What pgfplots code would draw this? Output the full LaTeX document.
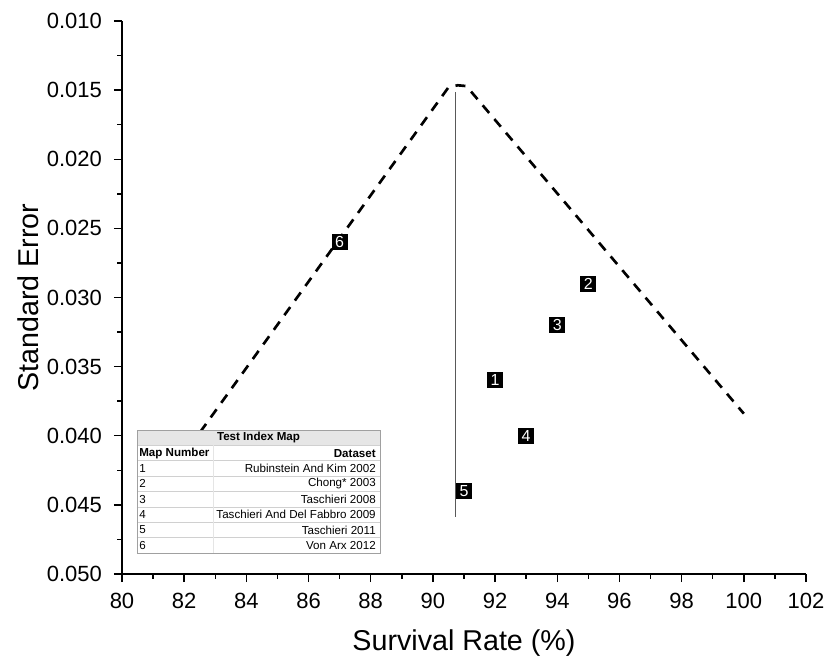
\documentclass[border=0pt]{standalone}
\usepackage{pgfplots}
\pgfplotsset{compat=1.18}
\usepackage{fontspec}
\setmainfont{Liberation Sans}
\usetikzlibrary{calc}

\definecolor{tblline}{HTML}{D0D0D0}
\definecolor{tblborder}{HTML}{A0A0A0}
\definecolor{tblhead}{HTML}{E6E6E6}

\begin{document}
\begin{tikzpicture}
\begin{axis}[
  name=ax,
  scale only axis,
  width=513pt, height=414.75pt,
  xmin=80, xmax=102,
  ymin=0.010, ymax=0.050,
  y dir=reverse,
  axis x line*=bottom, axis y line*=left,
  axis line style={line width=1.1pt},
  xtick={80,82,...,102},
  minor x tick num=1,
  ytick={0.010,0.015,...,0.0501},
  minor y tick num=1,
  tick align=outside,
  major tick length=6pt, minor tick length=3.5pt,
  every tick/.style={line width=1.1pt, black},
  scaled y ticks=false,
  /pgf/number format/assume math mode=true,
  tick label style={font=\fontsize{16.5}{19}\selectfont},
  yticklabel style={xshift=-5.5pt, /pgf/number format/.cd, fixed, fixed zerofill, precision=3},
  xticklabel style={yshift=-5pt},
  label style={font=\fontsize{21.5}{25}\selectfont},
  xlabel={Survival Rate (\%)},
  ylabel={Standard Error},
  xlabel style={at={(axis description cs:0.5,-0.1247)}, anchor=center},
  ylabel style={at={(axis description cs:-0.1374,0.5)}, anchor=center},
  clip=false,
]
% funnel
\addplot[black, line width=2pt, dash pattern=on 7.5pt off 6pt] coordinates {
  (81.5,0.0429) (90.5,0.0148) (90.8,0.01465) (91.05,0.0147) (91.15,0.0149) (100.0,0.0384)
};
% summary line
\addplot[color=black!65, line width=0.8pt] coordinates {(90.74,0.01514) (90.74,0.0459)};
% studies
\addplot[only marks, mark=none, point meta=explicit symbolic, nodes near coords,
  every node near coord/.style={anchor=center, fill=black, text=white,
    font=\fontsize{12}{13}\selectfont, minimum width=12.2pt, minimum height=12pt, inner sep=0pt}]
  coordinates {
  (92,0.036) [1]
  (95,0.029) [2]
  (94,0.032) [3]
  (93,0.040) [4]
  (91,0.044) [5]
  (87,0.026) [6]
};
\end{axis}

% inset table (units: px of the reference, origin at axis south west)
\begin{scope}[shift={(ax.south west)}, x=0.75pt, y=0.75pt,
  font=\fontsize{8.7}{10}\selectfont]
  \fill[white] (15,21) rectangle (258,144);
  \fill[tblhead] (15,144) rectangle (258,128.625);
  \foreach \i in {1,...,7} {
    \draw[tblline, line width=0.5pt] (15,{144-15.375*\i}) -- (258,{144-15.375*\i});
  }
  \draw[black!10, line width=0.5pt] (91,128.625) -- (91,21);
  \draw[tblborder, line width=0.7pt] (15,21) rectangle (258,144);
  \node[font=\fontsize{8.7}{10}\selectfont\bfseries] at (136.5,136.3) {Test Index Map};
  \node[anchor=west, font=\fontsize{8.7}{10}\selectfont\bfseries, inner sep=0pt] at (17,120.9) {Map Number};
  \node[anchor=east, font=\fontsize{8.7}{10}\selectfont\bfseries, inner sep=0pt] at (254,120.9) {Dataset};
  \foreach \n/\t [count=\k] in {1/Rubinstein And Kim 2002, 2/Chong* 2003, 3/Taschieri 2008,
      4/Taschieri And Del Fabbro 2009, 5/Taschieri 2011, 6/Von Arx 2012} {
    \node[anchor=west, inner sep=0pt] at (17,{120.9-15.375*\k}) {\n};
    \node[anchor=east, inner sep=0pt] at (254,{120.9-15.375*\k}) {\t};
  }
\end{scope}

\pgfresetboundingbox
\path ($(ax.south west)+(-91.5pt,-67.5pt)$) rectangle ($(ax.north east)+(20.25pt,15.75pt)$);
\end{tikzpicture}
\end{document}
